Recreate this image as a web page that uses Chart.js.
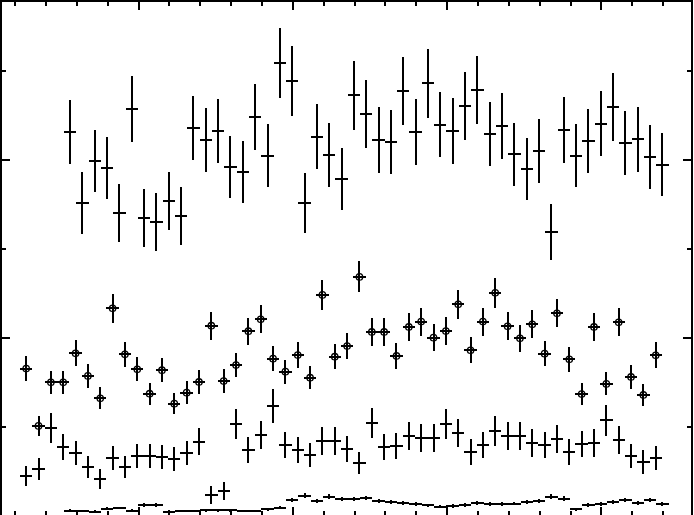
<!DOCTYPE html>
<html>
<head>
<meta charset="utf-8">
<script src="https://cdn.jsdelivr.net/npm/chart.js@4.4.1/dist/chart.umd.min.js"></script>
<style>
  html, body { margin: 0; padding: 0; background: #ffffff; overflow: hidden; }
  #wrap { width: 694px; height: 517px; position: relative; }
</style>
</head>
<body>
<div id="wrap"><canvas id="lc"></canvas></div>
<script>
// Light curve data, x in bin units (minor tick = 2.5 bins)
const xMinorTicks = [-10, -7.5, -5, -2.5, 0, 2.5, 5, 7.5, 10, 12.5, 15, 17.5, 20, 22.5, 25, 27.5, 30, 32.5, 35, 37.5, 40, 42.5];
const xMajorTicks = [0, 12.5, 25, 37.5];
const yMinorTicks = [0.5, 1.5, 2.5];
const yMajorTicks = [0, 1, 2];

// first binning (top series + bottom series)
const startA = -5.55;
// second binning (circles + middle series)
const startB = -9.1;

const topRate = [2.159, 1.757, 1.994, 1.957, 1.701, 2.288, 1.672, 1.653, 1.771, 1.685,
  2.181, 2.112, 2.163, 1.959, 1.933, 2.242, 2.024, 2.543, 2.446, 1.760,
  2.131, 2.026, 1.893, 2.363, 2.258, 2.112, 2.103, 2.389, 2.156, 2.431,
  2.198, 2.161, 2.303, 2.392, 2.144, 2.189, 2.032, 1.951, 2.049, 1.597,
  2.170, 2.024, 2.107, 2.204, 2.298, 2.097, 2.116, 2.017, 1.974];
const topErr = [.180, .174, .174, .174, .163, .185, .163, .163, .163, .163,
  .180, .180, .180, .174, .174, .185, .177, .197, .197, .169,
  .183, .180, .174, .194, .189, .185, .180, .191, .185, .194,
  .184, .185, .191, .191, .180, .185, .177, .174, .180, .157,
  .185, .177, .181, .184, .190, .180, .181, .178, .176];

const lowRate = [.030, .028, .024, .041, .045, .030, .063, .063, .024, .028,
  .028, .031, .031, .031, .028, .028, .037, .047, .090, .114,
  .084, .108, .096, .096, .101, .084, .079, .073, .067, .059,
  .053, .056, .062, .073, .067, .067, .070, .080, .086, .108,
  .097, .038, .062, .067, .080, .090, .075, .090, .067];
const lowErr = [.007, .007, .007, .008, .008, .007, .010, .010, .007, .007,
  .007, .007, .007, .007, .007, .007, .008, .008, .013, .015,
  .012, .014, .013, .013, .013, .012, .011, .011, .010, .010,
  .009, .010, .010, .011, .010, .010, .011, .012, .012, .014,
  .013, .008, .010, .010, .012, .013, .011, .013, .010];

const circRate = [.828, .506, .751, .751, .914, .787, .661, 1.167, .908, .824,
  .687, .819, .631, .693, .753, 1.069, .758, .848, 1.038, 1.105,
  .884, .811, .904, .777, 1.242, .895, .955, 1.343, 1.034, 1.034,
  .899, 1.062, 1.092, 1.002, 1.039, 1.189, .931, 1.092, 1.254, 1.066,
  .998, 1.077, .912, 1.139, .880, .685, 1.062, .742, 1.088, .781,
  .680, .903];
const circErr = [.068, .054, .065, .065, .072, .067, .061, .081, .072, .068,
  .062, .068, .060, .063, .065, .078, .066, .069, .077, .079,
  .071, .068, .072, .066, .084, .071, .074, .087, .077, .077,
  .071, .078, .079, .075, .077, .082, .073, .079, .084, .078,
  .075, .078, .072, .080, .071, .062, .078, .065, .079, .067,
  .062, .072];

const midRate = [.225, .264, .494, .388, .354, .275, .208, .326, .275, .337,
  .337, .331, .320, .354, .416, .118, .140, .517, .371, .455,
  .618, .399, .371, .343, .421, .421, .376, .298, .522, .388,
  .393, .449, .438, .438, .517, .466, .360, .399, .478, .449,
  .449, .410, .399, .433, .360, .404, .410, .539, .427, .337,
  .303, .326];
const midErr = [.056, .061, .083, .074, .070, .062, .054, .067, .062, .068,
  .068, .068, .067, .070, .076, .048, .050, .085, .072, .080,
  .093, .075, .072, .069, .077, .077, .072, .064, .085, .074,
  .074, .079, .078, .078, .085, .081, .071, .075, .082, .079,
  .079, .076, .075, .078, .071, .075, .076, .087, .077, .068,
  .065, .067];

function toPoints(start, rates) {
    return rates.map((v, i) => ({ x: start + i, y: v }));
}

// snap to whole pixels so 2px strokes stay crisp
const snap = v => Math.round(v);

// draws x/y error bars through the chart scales
const errorBars = {
    id: 'errorBars',
    beforeDatasetsDraw(chart) {
        const ctx = chart.ctx;
        const xs = chart.scales.x;
        const ys = chart.scales.y;
        ctx.save();
        ctx.strokeStyle = '#000000';
        ctx.lineWidth = 2;
        ctx.lineCap = 'butt';
        chart.data.datasets.forEach(ds => {
            ds.data.forEach((p, i) => {
                const e = ds.yErr[i];
                const cx = snap(xs.getPixelForValue(p.x));
                const cy = snap(ys.getPixelForValue(p.y));
                ctx.beginPath();
                ctx.moveTo(snap(xs.getPixelForValue(p.x - ds.xErr)), cy);
                ctx.lineTo(snap(xs.getPixelForValue(p.x + ds.xErr)), cy);
                ctx.moveTo(cx, snap(ys.getPixelForValue(p.y - e)));
                ctx.lineTo(cx, snap(ys.getPixelForValue(p.y + e)));
                ctx.stroke();
            });
        });
        ctx.restore();
    }
};

function line(ctx, x1, y1, x2, y2) {
    ctx.beginPath();
    ctx.moveTo(x1, y1);
    ctx.lineTo(x2, y2);
    ctx.stroke();
}

// frame and inward ticks on all four sides
const frame = {
    id: 'frame',
    afterDraw(chart) {
        const ctx = chart.ctx;
        const a = chart.chartArea;
        const xs = chart.scales.x;
        const ys = chart.scales.y;
        ctx.save();
        ctx.strokeStyle = '#000000';
        ctx.lineWidth = 2;
        ctx.strokeRect(a.left, a.top, a.right - a.left, a.bottom - a.top);
        xMinorTicks.forEach(v => {
            const len = xMajorTicks.includes(v) ? 9 : 5;
            const px = snap(xs.getPixelForValue(v));
            line(ctx, px, a.top, px, a.top + len);
            line(ctx, px, a.bottom, px, a.bottom - len);
        });
        const tickY = (v, len) => {
            const py = snap(ys.getPixelForValue(v));
            line(ctx, a.left, py, a.left + len, py);
            line(ctx, a.right, py, a.right - len, py);
        };
        yMinorTicks.forEach(v => tickY(v, 5));
        yMajorTicks.forEach(v => tickY(v, 9));
        ctx.restore();
    }
};

new Chart(document.getElementById('lc'), {
    type: 'scatter',
    data: {
        datasets: [
            { label: 'top', data: toPoints(startA, topRate), yErr: topErr, xErr: 0.5, pointRadius: 0 },
            { label: 'circles', data: toPoints(startB, circRate), yErr: circErr, xErr: 0.5,
              pointRadius: 3.2, pointStyle: 'circle', borderColor: '#000000', borderWidth: 1.3,
              backgroundColor: 'rgba(0,0,0,0)' },
            { label: 'middle', data: toPoints(startB, midRate), yErr: midErr, xErr: 0.5, pointRadius: 0 },
            { label: 'low', data: toPoints(startA, lowRate), yErr: lowErr, xErr: 0.5, pointRadius: 0 }
        ]
    },
    options: {
        responsive: true,
        maintainAspectRatio: false,
        animation: false,
        layout: { autoPadding: false, padding: { left: 1, right: 2, top: 1, bottom: 1 } },
        plugins: {
            legend: { display: false },
            tooltip: { enabled: false }
        },
        scales: {
            x: { type: 'linear', min: -11.14, max: 44.84, display: false },
            y: { type: 'linear', min: 0, max: 2.893, display: false }
        }
    },
    plugins: [errorBars, frame]
});
</script>
</body>
</html>
